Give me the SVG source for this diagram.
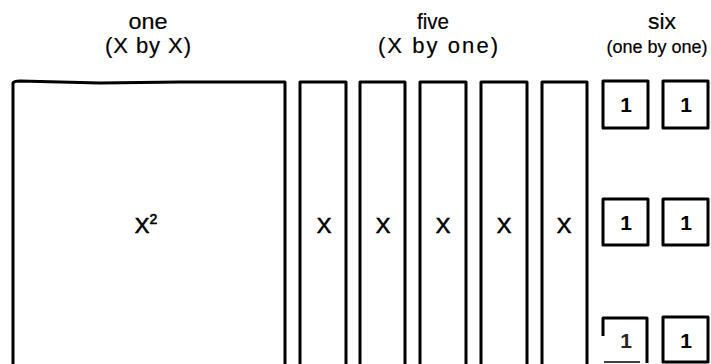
<svg xmlns="http://www.w3.org/2000/svg" width="711" height="364" viewBox="0 0 711 364">
  <style>
    .edge { fill: none; stroke: #000; stroke-width: 3; stroke-linejoin: round; }
    .thin { fill: none; stroke: #000; stroke-width: 1.5; }
    .head { font-family: "Liberation Sans", Arial, sans-serif; font-size: 22px; fill: #000; stroke: #000; stroke-width: 0.2; text-anchor: middle; }
    .head.small { font-size: 18px; }
    .lbl { font-family: "Liberation Sans", Arial, sans-serif; font-size: 22px; fill: #000; stroke: #000; stroke-width: 0.6; text-anchor: middle; }
    .unit { font-family: "Liberation Sans", Arial, sans-serif; font-size: 21px; font-weight: bold; fill: #000; text-anchor: middle; }
  </style>
  <rect width="711" height="364" fill="#fff"/>

  <!-- column headings -->
  <g id="heading-square">
    <text class="head" x="148" y="29" textLength="39" lengthAdjust="spacingAndGlyphs">one</text>
    <text class="head" x="148" y="53" textLength="86" lengthAdjust="spacing">(X by X)</text>
  </g>
  <g id="heading-strips">
    <text class="head" x="433" y="29" textLength="32" lengthAdjust="spacingAndGlyphs">five</text>
    <text class="head" x="438" y="53" textLength="120" lengthAdjust="spacing">(X by one)</text>
  </g>
  <g id="heading-units">
    <text class="head" x="662" y="29" textLength="28" lengthAdjust="spacingAndGlyphs">six</text>
    <text class="head small" x="657" y="53">(one by one)</text>
  </g>

  <!-- X by X square (open at the bottom edge of the page) -->
  <g id="square">
    <path class="edge" d="M13,364 V83 Q14,81 20,81 L60,82 L100,83 L180,82 L285,82 V364"/>
    <text class="lbl" x="146" y="233">X<tspan dy="-9" font-size="14">2</tspan></text>
  </g>

  <!-- five X by one strips -->
  <g id="strip-1">
    <path class="edge" d="M300,364 V82 H346 V364"/>
    <text class="lbl" x="324" y="233">X</text>
  </g>
  <g id="strip-2">
    <path class="edge" d="M360,364 V82 H405 V364"/>
    <text class="lbl" x="383" y="233">X</text>
  </g>
  <g id="strip-3">
    <path class="edge" d="M420,364 V82 H466 V364"/>
    <text class="lbl" x="443" y="233">X</text>
  </g>
  <g id="strip-4">
    <path class="edge" d="M481,364 V82 H527 V364"/>
    <text class="lbl" x="504" y="233">X</text>
  </g>
  <g id="strip-5">
    <path class="edge" d="M542,364 V82 H587 V364"/>
    <text class="lbl" x="564" y="233">X</text>
  </g>

  <!-- six one by one units -->
  <g id="unit-1">
    <rect class="edge" x="603" y="81" width="45" height="47"/>
    <text class="unit" x="626" y="112">1</text>
  </g>
  <g id="unit-2">
    <rect class="edge" x="663" y="81" width="45" height="47"/>
    <text class="unit" x="686" y="112">1</text>
  </g>
  <g id="unit-3">
    <rect class="edge" x="603" y="199" width="45" height="46"/>
    <text class="unit" x="626" y="230">1</text>
  </g>
  <g id="unit-4">
    <rect class="edge" x="663" y="199" width="45" height="46"/>
    <text class="unit" x="686" y="230">1</text>
  </g>
  <g id="unit-5">
    <path class="edge" d="M603,336 V318 H647 V363"/>
    <path class="thin" d="M604,362 H640"/>
    <text class="unit" x="626" y="348" opacity="0.85">1</text>
  </g>
  <g id="unit-6">
    <rect class="edge" x="663" y="317" width="45" height="45"/>
    <text class="unit" x="686" y="348">1</text>
  </g>
</svg>
